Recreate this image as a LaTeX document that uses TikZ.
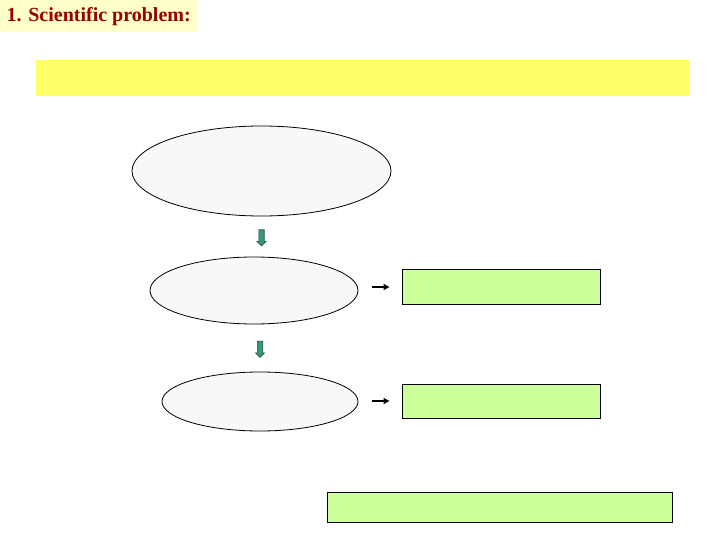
\documentclass[tikz,border=0pt]{standalone}
\usepackage{fontspec}
\setmainfont{Liberation Serif}
\usetikzlibrary{shapes.geometric,shapes.arrows,arrows.meta}
\definecolor{titlered}{HTML}{990000}
\definecolor{titlecream}{HTML}{FFFFCC}
\definecolor{bandyellow}{HTML}{FFFF66}
\definecolor{bubblegray}{HTML}{F8F8F8}
\definecolor{resultgreen}{HTML}{CCFF99}
\definecolor{arrowgreen}{HTML}{33997F}
\definecolor{arrowdark}{HTML}{1F4F3F}

\begin{document}
\begin{tikzpicture}[x=1pt,y=-1pt,
    bubble/.style={ellipse,draw,fill=bubblegray,line width=0.8pt,inner sep=0pt},
    resultbox/.style={rectangle,draw,fill=resultgreen,line width=1pt,inner sep=0pt},
    downarrow/.style={single arrow,draw=arrowdark,fill=arrowgreen,line width=0.7pt,
      minimum height=16pt,inner sep=2.3pt,
      single arrow head extend=1.8pt,single arrow head indent=0pt,shape border rotate=270},
    sidearrow/.style={-{Triangle[length=6pt,width=6pt]},line width=1.8pt}]
    \useasboundingbox (0,0) rectangle (720,540);
    \node[fill=titlecream,text=titlered,minimum width=197pt,minimum height=32pt,
      inner sep=0pt,anchor=north west,font=\fontsize{20}{24}\selectfont\bfseries]
      (title) at (0,0) {1. Scientific problem:};
    \node[fill=bandyellow,minimum width=653pt,minimum height=36pt,inner sep=0pt] (band) at (362.5,78) {};
    % chain of ellipses on the left
    \node[bubble,minimum width=259pt,minimum height=90pt] (e1) at (261.5,171) {};
    \node[bubble,minimum width=208pt,minimum height=67pt] (e2) at (254,290.5) {};
    \node[bubble,minimum width=196pt,minimum height=59pt] (e3) at (260,401.5) {};
    % results on the right
    \node[resultbox,minimum width=198pt,minimum height=35pt] (r1) at (501,287) {};
    \node[resultbox,minimum width=198pt,minimum height=34pt] (r2) at (501,401) {};
    \node[resultbox,minimum width=345pt,minimum height=30pt] (r3) at (499.5,507) {};
    \path (e1.south) -- node[downarrow] (a1) {} (e1.south |- e2.north);
    \path (e3.north |- e2.south) -- node[downarrow] (a2) {} (e3.north);
    \draw[sidearrow,shorten <=14pt,shorten >=12pt] (e2.east |- r1.west) -- (r1.west);
    \draw[sidearrow,shorten <=14pt,shorten >=12pt] (e3.east |- r2.west) -- (r2.west);
  \end{tikzpicture}
\end{document}
